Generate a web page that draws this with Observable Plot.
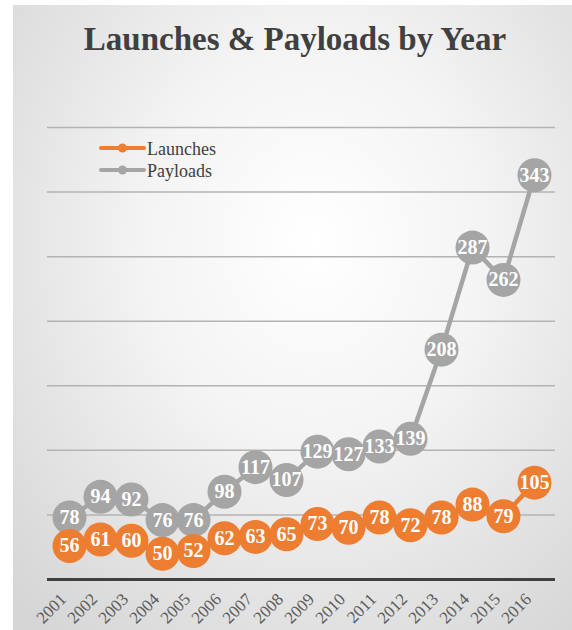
<!DOCTYPE html>
<html>
<head>
<meta charset="utf-8">
<script src="https://cdn.jsdelivr.net/npm/d3@7"></script>
<script src="https://cdn.jsdelivr.net/npm/@observablehq/plot@0.6"></script>
<style>
  html, body { margin: 0; padding: 0; background: #ffffff; }
  #wrap { position: relative; width: 572px; height: 630px; overflow: hidden; }
  #bg { position: absolute; left: 13px; top: 5px; right: 0; bottom: 0;
        background: radial-gradient(ellipse 75% 80% at 54% 38%, #ffffff 0%, #f4f4f4 40%, #e2e2e2 75%, #d6d6d6 100%); }
  #chart, #overlay { position: absolute; left: 0; top: 0; }
</style>
</head>
<body>
<div id="wrap">
  <div id="bg"></div>
  <div id="chart"></div>
  <svg id="overlay" width="572" height="630"></svg>
</div>
<script>
const years = ["2001","2002","2003","2004","2005","2006","2007","2008","2009","2010","2011","2012","2013","2014","2015","2016"];
const launches = [56, 61, 60, 50, 52, 62, 63, 65, 73, 70, 78, 72, 78, 88, 79, 105];
const payloads = [78, 94, 92, 76, 76, 98, 117, 107, 129, 127, 133, 139, 208, 287, 262, 343];
const yTicks = [30, 80, 130, 180, 230, 280, 330, 380];
const seriesNames = ["Launches", "Payloads"];
const seriesColors = ["#ED7D31", "#A5A5A5"];
const titleText = "Launches & Payloads by Year";

const launchData = years.map((y, i) => ({year: y, value: launches[i]}));
const payloadData = years.map((y, i) => ({year: y, value: payloads[i]}));

const font = "'Liberation Serif', 'Times New Roman', serif";

function seriesMarks(data, color) {
  return [
    Plot.line(data, {x: "year", y: "value", stroke: color, strokeWidth: 4.5}),
    Plot.dot(data, {x: "year", y: "value", r: 17, fill: color, stroke: "none"}),
    Plot.text(data, {x: "year", y: "value", text: d => String(d.value), fill: "white",
      fontWeight: "bold", fontSize: 20, fontFamily: font})
  ];
}

const chart = Plot.plot({
  width: 572,
  height: 630,
  marginLeft: 47,
  marginRight: 17,
  marginTop: 127,
  marginBottom: 51,
  style: {background: "transparent", fontFamily: font},
  x: {type: "point", domain: years, padding: 0.5, label: null},
  y: {domain: [30, 380], axis: null},
  marks: [
    Plot.ruleY(yTicks.slice(1), {stroke: "#b3b3b3", strokeWidth: 1.5}),
    Plot.ruleY([yTicks[0]], {stroke: "#404040", strokeWidth: 3}),
    Plot.axisX({tickSize: 0, tickRotate: -45, tickPadding: 17, fontSize: 17, fill: "#595959",
      fontFamily: font, label: null, dx: -6}),
    ...seriesMarks(payloadData, seriesColors[1]),
    ...seriesMarks(launchData, seriesColors[0])
  ]
});
d3.select(chart).selectAll('g[aria-label="x-axis tick label"]').attr("font-size", 17).style("font-size", "17px");
document.getElementById("chart").appendChild(chart);

const ov = d3.select("#overlay");
ov.append("text")
  .attr("x", 295).attr("y", 50)
  .attr("text-anchor", "middle")
  .attr("font-family", font).attr("font-weight", "bold").attr("font-size", 33)
  .attr("fill", "#404040")
  .text(titleText);

const legendRows = [0, 1];
legendRows.forEach(i => {
  const cy = 148 + i * 22;
  ov.append("line").attr("x1", 101).attr("x2", 144).attr("y1", cy).attr("y2", cy)
    .attr("stroke", seriesColors[i]).attr("stroke-width", 4).attr("stroke-linecap", "round");
  ov.append("circle").attr("cx", 122.5).attr("cy", cy).attr("r", 4.5).attr("fill", seriesColors[i]);
  ov.append("text").attr("x", 147).attr("y", cy + 6.5)
    .attr("font-family", font).attr("font-size", 18).attr("fill", "#404040")
    .text(seriesNames[i]);
});
</script>
</body>
</html>
